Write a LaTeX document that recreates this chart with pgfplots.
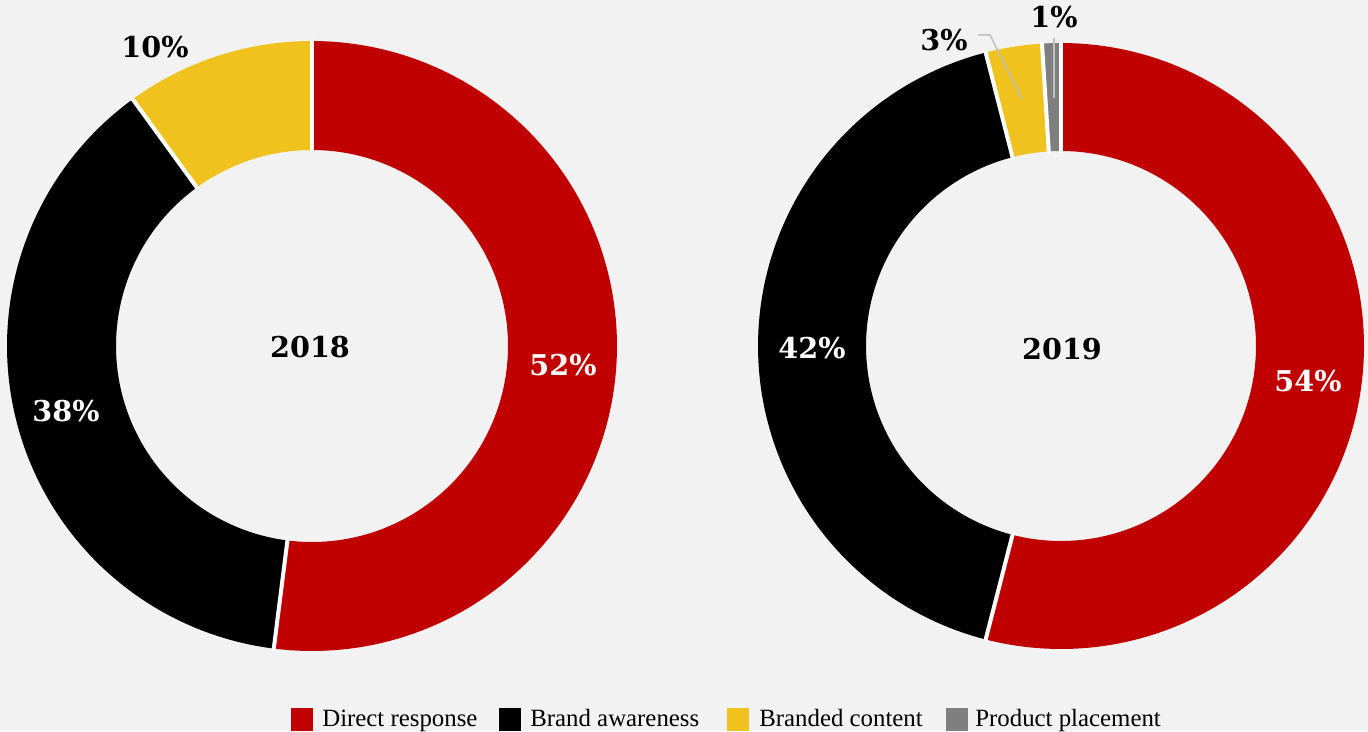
\documentclass[border=0pt]{standalone}
\usepackage{pgfplots}
\usepackage{pgfplotstable}
\pgfplotsset{compat=1.18}
\usepackage{fontspec}
\setmainfont{Liberation Serif}
\newfontfamily\labfont{DejaVu Serif}
\definecolor{bg}{HTML}{F2F2F2}
\definecolor{slice0}{HTML}{C00000}
\definecolor{slice1}{HTML}{000000}
\definecolor{slice2}{HTML}{F0C21E}
\definecolor{slice3}{HTML}{7F7F7F}
\definecolor{leader}{HTML}{BFBFBF}

\pgfplotstableread{
category value
Direct 52
Brand 38
Branded 10
}\dataA
\pgfplotstableread{
category value
Direct 54
Brand 42
Branded 3
Product 1
}\dataB

% #1 table, #2 cx, #3 cy, #4 R, #5 r
\newcommand\donut[5]{%
  \pgfplotstablegetrowsof{#1}\pgfmathtruncatemacro\nrows{\pgfplotsretval-1}%
  \def\cum{0}%
  \pgfplotsforeachungrouped \i in {0,...,\nrows}{%
    \pgfplotstablegetelem{\i}{value}\of{#1}\let\v\pgfplotsretval
    \pgfmathsetmacro\aStart{90-3.6*\cum}%
    \pgfmathsetmacro\cum{\cum+\v}%
    \pgfmathsetmacro\aEnd{90-3.6*\cum}%
    \edef\cmd{\noexpand\fill[slice\i] plot[domain=\aStart:\aEnd,samples=120,variable=\noexpand\t] ({#2+#4*cos(\noexpand\t)},{#3+#4*sin(\noexpand\t)}) -- plot[domain=\aEnd:\aStart,samples=120,variable=\noexpand\t] ({#2+#5*cos(\noexpand\t)},{#3+#5*sin(\noexpand\t)}) -- cycle;}%
    \cmd
  }%
  \def\cum{0}%
  \pgfplotsforeachungrouped \i in {0,...,\nrows}{%
    \pgfplotstablegetelem{\i}{value}\of{#1}\let\v\pgfplotsretval
    \pgfmathsetmacro\aStart{90-3.6*\cum}%
    \pgfmathsetmacro\cum{\cum+\v}%
    \edef\cmd{\noexpand\draw[white,line width=2.4pt] ({#2+(#5-2)*cos(\aStart)},{#3+(#5-2)*sin(\aStart)}) -- ({#2+(#4+2)*cos(\aStart)},{#3+(#4+2)*sin(\aStart)});}%
    \cmd
  }%
}

\begin{document}
\begin{tikzpicture}
\begin{axis}[hide axis, scale only axis, width=820.8pt, height=438.6pt,
  xmin=0, xmax=1368, ymin=0, ymax=731, clip=false]
\fill[bg] (0,0) rectangle (1368,731);
\donut{\dataA}{312}{385}{305}{196}
\donut{\dataB}{1061}{385}{303}{195}

\tikzset{lab/.style={font=\labfont\bfseries\fontsize{17.2}{20}\selectfont, anchor=center, inner sep=0pt}}
\node[lab, text=white] at (563,366) {52\%};
\node[lab, text=white] at (66,320) {38\%};
\node[lab, text=black] at (155,684) {10\%};
\node[lab, text=black] at (310,384) {2018};
\node[lab, text=black] at (1062,382) {2019};
\node[lab, text=white] at (812,383) {42\%};
\node[lab, text=white] at (1308,350) {54\%};
\node[lab, text=black] at (944,691) {3\%};
\node[lab, text=black] at (1054,714) {1\%};

\draw[leader, line width=0.9pt] (978,696) -- (990,696) -- (1022,632);
\draw[leader, line width=0.9pt] (1054,693) -- (1054,633);

\tikzset{leg/.style={anchor=base west, inner sep=0pt, font=\fontsize{14.9}{17}\selectfont}}
\fill[slice0] (291,0) rectangle (313,23);
\node[leg] at (322,5) {Direct response};
\fill[slice1] (499,0) rectangle (521,23);
\node[leg] at (530,5) {Brand awareness};
\fill[slice2] (727,0) rectangle (749,23);
\node[leg] at (759,5) {Branded content};
\fill[slice3] (946,0) rectangle (968,23);
\node[leg] at (975,5) {Product placement};
\end{axis}
\end{tikzpicture}
\end{document}
